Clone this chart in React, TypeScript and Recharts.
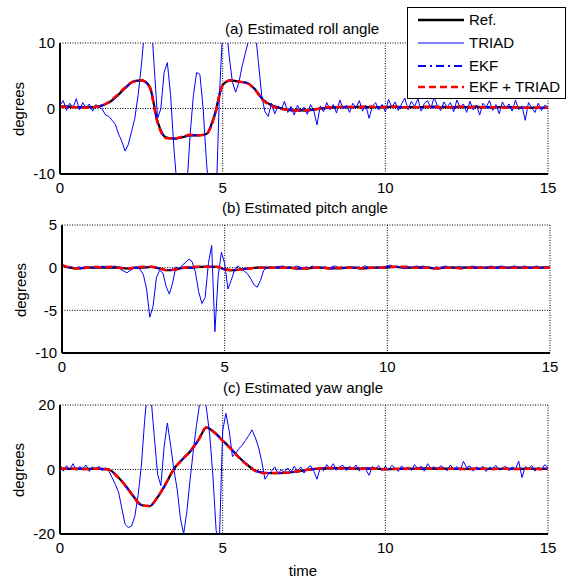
import React from 'react';
import { LineChart, Line, XAxis, YAxis, CartesianGrid } from 'recharts';

const FONT = '"Liberation Sans", Arial, Helvetica, sans-serif';

// time axis
const xTicks = [0, 5, 10, 15];
const SLOW_STEP = 0.25; // smooth estimates sampled every 0.25 s
const FAST_STEP = 0.1; // TRIAD sampled every 0.1 s

// ---------- (a) roll ----------
const rollTicks = [-10, 0, 10];
const rollRef = [
  0.3, 0.3, 0.2, 0.2, 0.2, 0.4, 0.9, 1.9, 3.1, 4.1,
  4.3, 3.4, -2.0, -4.4, -4.6, -4.4, -4.1, -4.1, -3.9, -1.0,
  3.6, 4.3, 4.1, 3.9, 2.9, 1.3, 0.5, 0.1, -0.2, -0.3,
  -0.3, -0.2, 0.0, 0.1, 0.2, 0.2, 0.2, 0.3, 0.2, 0.2,
  0.2, 0.3, 0.2, 0.2, 0.2, 0.2, 0.3, 0.2, 0.2, 0.2,
  0.2, 0.3, 0.2, 0.2, 0.2, 0.2, 0.2, 0.1, 0.1, 0.1,
  0.1,
];
const rollEkf = [
  0.3, 0.3, 0.2, 0.2, 0.2, 0.4, 0.9, 1.9, 3.1, 4.1,
  4.3, 3.4, -2.1, -4.4, -4.6, -4.4, -4.1, -4.1, -3.9, -1.1,
  3.6, 4.3, 4.1, 3.9, 2.9, 1.3, 0.5, 0.1, -0.2, -0.3,
  -0.3, -0.2, 0.0, 0.1, 0.2, 0.2, 0.2, 0.2, 0.2, 0.2,
  0.3, 0.2, 0.2, 0.2, 0.2, 0.2, 0.2, 0.3, 0.2, 0.2,
  0.2, 0.2, 0.2, 0.2, 0.2, 0.2, 0.1, 0.1, 0.2, 0.1,
  0.1,
];
const rollEkfTriad = [
  0.3, 0.2, 0.2, 0.1, 0.2, 0.4, 1.0, 2.0, 3.2, 4.1,
  4.3, 3.3, -2.2, -4.5, -4.6, -4.3, -4.0, -4.1, -3.9, -1.2,
  3.5, 4.3, 4.1, 3.9, 2.8, 1.2, 0.4, 0.0, -0.2, -0.3,
  -0.3, -0.2, 0.0, 0.2, 0.2, 0.3, 0.2, 0.2, 0.3, 0.2,
  0.2, 0.3, 0.2, 0.2, 0.2, 0.3, 0.2, 0.2, 0.2, 0.3,
  0.2, 0.2, 0.2, 0.2, 0.2, 0.1, 0.2, 0.1, 0.1, 0.2,
  0.1,
];
const rollTriad = [
  0.5, 1.2, -0.3, 0.8, 0.1, 1.5, -0.2, 0.9, 0.0, 0.7,
  -0.4, 0.6, 0.2, -0.1, -1.0, -1.2, -1.8, -2.4, -3.9, -5.0,
  -6.5, -5.5, -3.5, -1.5, 2.0, 6.5, 12.0, 16.0, 14.0, 6.0,
  -1.5, 0.0, 5.5, 7.0, 2.0, -6.0, -12.0, -16.0, -17.0, -12.0,
  -4.0, 2.0, 5.5, 5.2, 0.0, -8.0, -14.0, -16.0, -14.0, 2.0,
  12.0, 13.0, 8.0, 4.0, 2.5, 4.0, 6.5, 8.5, 10.5, 13.0,
  12.0, 7.0, 2.0, -0.5, -1.2, 0.8, -0.8, 0.4, -0.2, 1.1,
  -0.6, 0.3, -1.0, 0.5, -0.4, 0.2, -0.9, 0.6, -0.3, -2.5,
  0.4, -0.5, 0.9, -0.2, 0.6, -0.7, 1.3, 0.0, 0.5, -0.6,
  0.8, 0.1, 1.2, -0.4, 0.5, -1.5, 0.3, 0.9, -0.2, 0.6,
  -0.5, 1.4, 0.2, 1.0, -0.3, 0.7, 1.6, -0.2, 1.1, 0.3,
  1.5, -0.4, 0.8, 1.2, 0.0, 1.7, 0.4, -0.3, 1.0, 0.2,
  0.9, -0.5, 1.3, 0.1, 0.7, -0.6, 1.1, -0.2, 0.5, -1.0,
  0.8, 0.2, 1.2, -0.3, 0.6, -0.8, 1.0, 0.0, 0.7, -0.4,
  1.3, -0.2, 0.4, -1.8, 0.9, 0.1, -0.6, 0.8, -0.3, 0.5,
  0.2,
];

// ---------- (b) pitch ----------
const pitchTicks = [-10, -5, 0, 5];
const pitchRef = [
  0.2, 0.0, -0.1, 0.0, 0.0, 0.0, 0.0, 0.0, -0.1, 0.0,
  0.0, 0.1, -0.1, -0.3, -0.2, 0.0, 0.0, 0.1, 0.1, 0.1,
  -0.2, -0.3, -0.2, -0.1, 0.0, 0.0, 0.0, 0.0, 0.0, -0.1,
  -0.1, 0.0, 0.0, -0.1, -0.1, 0.0, 0.0, -0.1, 0.0, 0.0,
  0.0, 0.1, 0.0, 0.0, 0.0, 0.0, -0.1, 0.0, 0.0, 0.0,
  0.0, 0.0, 0.0, 0.0, 0.0, 0.0, 0.0, 0.0, 0.0, 0.0,
  0.0,
];
const pitchEkf = [
  0.3, 0.0, -0.1, 0.0, 0.0, 0.1, 0.0, 0.0, -0.1, 0.0,
  0.0, 0.1, -0.1, -0.3, -0.2, 0.0, 0.0, 0.1, 0.1, 0.1,
  -0.2, -0.3, -0.2, -0.1, 0.0, 0.0, 0.0, 0.1, 0.0, -0.1,
  -0.1, 0.0, 0.0, -0.1, 0.0, 0.0, 0.0, -0.1, 0.0, 0.0,
  0.1, 0.1, 0.0, 0.0, 0.0, 0.0, -0.1, 0.0, 0.0, 0.0,
  0.0, 0.0, 0.0, 0.0, 0.0, 0.0, 0.0, 0.0, 0.0, 0.0,
  0.0,
];
const pitchEkfTriad = [
  0.3, 0.0, -0.1, 0.0, 0.1, 0.0, 0.1, 0.0, -0.1, 0.0,
  0.1, 0.1, -0.1, -0.3, -0.2, 0.0, 0.1, 0.1, 0.1, 0.1,
  -0.2, -0.3, -0.2, -0.1, 0.0, 0.0, 0.0, 0.0, 0.0, -0.1,
  -0.1, 0.0, 0.0, -0.1, 0.0, 0.0, 0.0, -0.1, 0.0, 0.0,
  0.1, 0.1, 0.1, 0.0, 0.0, 0.0, -0.1, 0.0, 0.0, -0.1,
  0.0, 0.0, 0.0, 0.0, 0.0, 0.0, 0.0, 0.0, 0.0, 0.0,
  0.0,
];
const pitchTriad = [
  0.3, 0.2, 0.0, 0.1, -0.1, 0.1, 0.0, 0.1, -0.1, 0.1,
  0.0, 0.2, 0.0, 0.1, 0.2, 0.0, 0.2, 0.1, -0.2, -0.4,
  -0.6, -0.3, -0.1, 0.0, -0.2, -0.8, -2.5, -5.8, -4.5, -1.2,
  -0.3, -0.6, -2.2, -3.1, -1.8, 0.1, -0.2, 0.3, 0.6, 1.0,
  0.7, -0.5, -2.8, -4.2, -3.5, 0.5, 2.6, -7.5, -1.0, 1.8,
  0.5, -2.5, -1.5, -0.3, 0.2, -0.1, -0.4, -0.7, -1.3, -2.0,
  -2.3, -1.5, -0.3, 0.0, 0.1, -0.1, 0.1, 0.0, 0.2, -0.1,
  0.1, 0.0, 0.2, 0.1, -0.1, 0.1, 0.0, 0.2, -0.1, 0.1,
  0.0, 0.1, -0.1, 0.1, 0.2, 0.0, 0.1, -0.1, 0.0, 0.1,
  -0.1, 0.1, 0.0, 0.2, 0.1, -0.1, 0.0, 0.1, 0.0, 0.1,
  0.2, 0.3, 0.1, 0.2, 0.0, 0.1, 0.2, 0.0, 0.1, 0.2,
  0.1, 0.2, 0.0, 0.1, -0.1, 0.1, 0.0, 0.1, 0.2, 0.0,
  0.1, 0.0, 0.1, -0.1, 0.1, 0.0, 0.2, 0.1, 0.0, 0.1,
  0.0, 0.1, 0.2, 0.0, 0.1, 0.2, 0.1, 0.0, 0.1, 0.2,
  0.1, 0.0, 0.2, 0.1, 0.0, 0.1, 0.2, 0.0, 0.1, 0.1,
  0.0,
];

// ---------- (c) yaw ----------
const yawTicks = [-20, 0, 20];
const yawRef = [
  0.2, 0.2, 0.2, 0.2, 0.2, 0.2, 0.0, -2.0, -4.8, -8.2,
  -11.0, -11.4, -8.6, -4.5, 0.2, 3.0, 5.6, 9.0, 13.0, 11.5,
  9.0, 6.5, 3.8, 1.5, -0.3, -1.0, -1.1, -1.1, -1.0, -0.7,
  -0.3, 0.1, 0.3, 0.4, 0.4, 0.4, 0.3, 0.3, 0.3, 0.2,
  0.1, 0.1, 0.2, 0.2, 0.3, 0.3, 0.3, 0.3, 0.2, 0.2,
  0.2, 0.2, 0.2, 0.2, 0.2, 0.2, 0.2, 0.2, 0.2, 0.2,
  0.2,
];
const yawEkf = [
  0.2, 0.2, 0.2, 0.2, 0.2, 0.2, 0.0, -2.0, -4.9, -8.2,
  -11.0, -11.3, -8.6, -4.5, 0.1, 3.0, 5.6, 9.0, 13.0, 11.4,
  9.0, 6.4, 3.8, 1.5, -0.3, -1.0, -1.1, -1.1, -1.0, -0.7,
  -0.3, 0.1, 0.3, 0.4, 0.4, 0.3, 0.3, 0.3, 0.3, 0.2,
  0.1, 0.2, 0.2, 0.2, 0.3, 0.3, 0.3, 0.2, 0.2, 0.2,
  0.2, 0.2, 0.2, 0.2, 0.2, 0.2, 0.2, 0.2, 0.2, 0.2,
  0.2,
];
const yawEkfTriad = [
  0.2, 0.3, 0.2, 0.1, 0.2, 0.2, -0.1, -2.1, -4.9, -8.3,
  -11.1, -11.3, -8.5, -4.4, 0.1, 3.0, 5.7, 9.1, 13.0, 11.4,
  8.9, 6.4, 3.7, 1.4, -0.4, -1.1, -1.1, -1.0, -1.0, -0.6,
  -0.2, 0.1, 0.3, 0.5, 0.4, 0.3, 0.3, 0.2, 0.3, 0.2,
  0.1, 0.2, 0.2, 0.3, 0.2, 0.3, 0.3, 0.2, 0.2, 0.2,
  0.1, 0.2, 0.2, 0.1, 0.2, 0.2, 0.1, 0.2, 0.2, 0.1,
  0.2,
];
const yawTriad = [
  1.5, -0.5, 1.2, 0.0, 1.8, -0.3, 0.9, 0.2, 1.4, -0.6,
  0.8, 0.1, 1.0, -0.4, 0.6, -0.5, -2.5, -4.6, -7.0, -12.0,
  -17.0, -18.0, -17.5, -14.5, -8.0, 1.0, 15.0, 26.0, 22.0, 10.0,
  -1.5, -5.0, 7.0, 14.4, 7.5, 0.0, -6.0, -15.0, -20.0, -13.0,
  -3.0, 6.0, 14.0, 21.0, 24.0, 19.0, 11.0, -2.0, -19.0, -22.0,
  12.0, 17.4, 12.0, 4.0, 5.0, 6.5, 7.5, 9.0, 10.5, 12.3,
  10.0, 7.0, 2.5, -3.0, -1.5, -0.5, 0.8, -1.2, -0.2, -0.8,
  0.5, -0.9, 1.0, -0.3, 0.8, -1.1, 0.4, 1.2, -0.5, -3.0,
  0.6, -0.4, 1.5, 0.2, 1.8, -0.2, 0.9, 1.3, -0.3, 1.0,
  0.2, 1.4, -0.5, 0.7, 0.0, -1.8, 0.9, 0.3, 1.2, -0.4,
  1.0, -0.2, 1.3, 0.4, -0.6, 1.1, 0.0, 0.8, -0.3, 1.5,
  0.2, 1.0, -0.5, 1.8, 0.3, 0.9, -0.2, 1.2, 0.5, -0.4,
  1.4, 0.0, 0.9, -0.3, 2.5, 0.6, 1.1, -0.5, 0.8, 0.2,
  1.0, -0.6, 0.7, 0.3, 1.3, -0.2, 0.5, 1.0, -0.4, 0.8,
  0.1, 2.6, -2.5, 0.9, 0.3, 1.2, -0.5, 0.7, 0.0, 1.5,
  0.6,
];

// legend entries
const legendItems = [
  { name: 'Ref.', color: '#000000', width: 2.5, dash: undefined as string | undefined },
  { name: 'TRIAD', color: '#0000ff', width: 1, dash: undefined as string | undefined },
  { name: 'EKF', color: '#0000ff', width: 2, dash: '8 4 2 4' },
  { name: 'EKF + TRIAD', color: '#ff0000', width: 2.5, dash: '7 4' },
];

const toPoints = (values: number[], step: number) =>
  values.map((v, i) => ({ t: Math.round(i * step * 100) / 100, v }));

type PanelProps = {
  top: number;
  height: number;
  plotTop: number;
  plotLeft: number;
  plotRight: number;
  plotBottom: number;
  yDomain: [number, number];
  yTicks: number[];
  refV: number[];
  ekfV: number[];
  ekfTriadV: number[];
  triadV: number[];
};

const tickStyle = { fill: '#000', fontSize: 15, fontFamily: FONT };

function Panel(p: PanelProps) {
  const W = 566;
  const xAxisHeight = p.height - p.plotBottom;
  return (
    <div style={{ position: 'absolute', left: 0, top: p.top, width: W, height: p.height }}>
      <LineChart
        width={W}
        height={p.height}
        margin={{ top: p.plotTop, right: W - p.plotRight, bottom: 0, left: 0 }}
      >
        <CartesianGrid stroke="#000" strokeDasharray="1 1.5" strokeWidth={1} />
        <XAxis
          type="number"
          dataKey="t"
          domain={[0, 15]}
          ticks={xTicks}
          allowDataOverflow
          height={xAxisHeight}
          tickLine={false}
          tickSize={6}
          tickMargin={2}
          axisLine={{ stroke: '#000', strokeWidth: 2 }}
          tick={tickStyle}
          interval={0}
        />
        <XAxis
          xAxisId="top"
          orientation="top"
          type="number"
          dataKey="t"
          domain={[0, 15]}
          ticks={xTicks}
          allowDataOverflow
          height={0}
          tick={false}
          tickLine={false}
          axisLine={{ stroke: '#000', strokeWidth: 2 }}
        />
        <YAxis
          type="number"
          domain={p.yDomain}
          ticks={p.yTicks}
          allowDataOverflow
          width={p.plotLeft}
          tickLine={false}
          tickSize={5}
          tickMargin={0}
          axisLine={{ stroke: '#000', strokeWidth: 2 }}
          tick={tickStyle}
          interval={0}
        />
        <YAxis
          yAxisId="right"
          orientation="right"
          type="number"
          domain={p.yDomain}
          ticks={p.yTicks}
          allowDataOverflow
          width={0}
          tick={false}
          tickLine={false}
          axisLine={{ stroke: '#000', strokeWidth: 2 }}
        />
        <Line
          data={toPoints(p.refV, SLOW_STEP)}
          dataKey="v"
          type="monotone"
          stroke="#000"
          strokeWidth={2.2}
          dot={false}
          activeDot={false}
          isAnimationActive={false}
        />
        <Line
          data={toPoints(p.triadV, FAST_STEP)}
          dataKey="v"
          type="linear"
          stroke="#0000ff"
          strokeWidth={1}
          dot={false}
          activeDot={false}
          isAnimationActive={false}
        />
        <Line
          data={toPoints(p.ekfV, SLOW_STEP)}
          dataKey="v"
          type="monotone"
          stroke="#0000ff"
          strokeWidth={2}
          strokeDasharray="8 4 2 4"
          dot={false}
          activeDot={false}
          isAnimationActive={false}
        />
        <Line
          data={toPoints(p.ekfTriadV, SLOW_STEP)}
          dataKey="v"
          type="monotone"
          stroke="#ff0000"
          strokeWidth={2.5}
          strokeDasharray="7 4"
          dot={false}
          activeDot={false}
          isAnimationActive={false}
        />
      </LineChart>
    </div>
  );
}

const textBase: React.CSSProperties = {
  position: 'absolute',
  fontFamily: FONT,
  fontSize: 15,
  color: '#000',
  whiteSpace: 'nowrap',
  lineHeight: 1,
};

function Centered({ x, y, children, rotate }: { x: number; y: number; children: React.ReactNode; rotate?: boolean }) {
  return (
    <div
      style={{
        ...textBase,
        left: x,
        top: y,
        transform: `translate(-50%, -50%)${rotate ? ' rotate(-90deg)' : ''}`,
      }}
    >
      {children}
    </div>
  );
}

function LegendBox() {
  const w = 159;
  const h = 92;
  const rows = [13, 36, 59, 80];
  return (
    <svg width={w} height={h} style={{ position: 'absolute', left: 407, top: 7 }}>
      <rect x={0.5} y={0.5} width={w - 1} height={h - 1} fill="#fff" stroke="#000" strokeWidth={1} />
      {legendItems.map((it, i) => (
        <g key={it.name}>
          <line
            x1={11}
            x2={57}
            y1={rows[i]}
            y2={rows[i]}
            stroke={it.color}
            strokeWidth={it.width}
            strokeDasharray={it.dash}
          />
          <text x={62} y={rows[i] + 5} fontFamily={FONT} fontSize={15} fill="#000">
            {it.name}
          </text>
        </g>
      ))}
    </svg>
  );
}

export default function App() {
  return (
    <div
      style={{
        position: 'fixed',
        left: 0,
        top: 0,
        width: 566,
        height: 578,
        background: '#fff',
        overflow: 'hidden',
      }}
    >
      <Panel
        top={0}
        height={200}
        plotTop={43}
        plotLeft={60}
        plotRight={548}
        plotBottom={174}
        yDomain={[-10, 10]}
        yTicks={rollTicks}
        refV={rollRef}
        ekfV={rollEkf}
        ekfTriadV={rollEkfTriad}
        triadV={rollTriad}
      />
      <Panel
        top={200}
        height={180}
        plotTop={25}
        plotLeft={62}
        plotRight={550}
        plotBottom={153}
        yDomain={[-10, 5]}
        yTicks={pitchTicks}
        refV={pitchRef}
        ekfV={pitchEkf}
        ekfTriadV={pitchEkfTriad}
        triadV={pitchTriad}
      />
      <Panel
        top={380}
        height={198}
        plotTop={25}
        plotLeft={60}
        plotRight={548}
        plotBottom={154}
        yDomain={[-20, 20]}
        yTicks={yawTicks}
        refV={yawRef}
        ekfV={yawEkf}
        ekfTriadV={yawEkfTriad}
        triadV={yawTriad}
      />
      <Centered x={302} y={28}>(a) Estimated roll angle</Centered>
      <Centered x={305} y={207}>(b) Estimated pitch angle</Centered>
      <Centered x={303} y={387}>(c) Estimated yaw angle</Centered>
      <Centered x={18} y={109} rotate>degrees</Centered>
      <Centered x={20} y={290} rotate>degrees</Centered>
      <Centered x={18} y={470} rotate>degrees</Centered>
      <Centered x={303} y={570}>time</Centered>
      <LegendBox />
    </div>
  );
}
